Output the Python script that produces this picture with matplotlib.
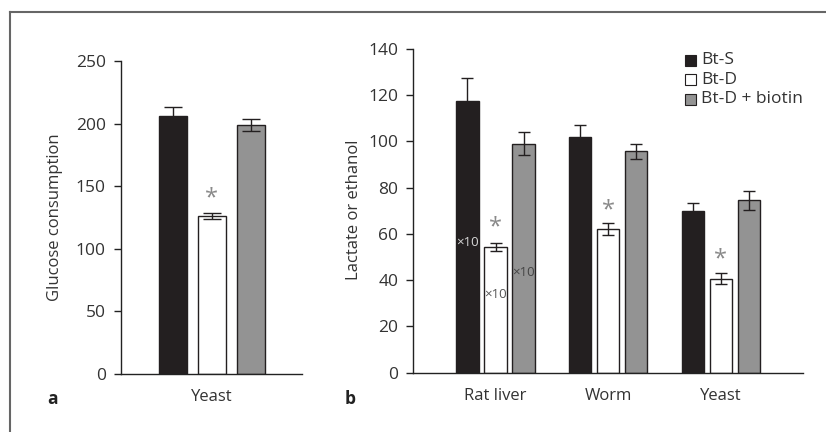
import matplotlib
matplotlib.use("Agg")
import matplotlib.pyplot as plt
from matplotlib.patches import Rectangle
from matplotlib.lines import Line2D
import numpy as np

plt.rcParams['font.family'] = ['Open Sans', 'DejaVu Sans']

# Panel a: glucose consumption in yeast
groups_a = ["Yeast"]
glucose_mean = {"Bt-S": [206], "Bt-D": [126], "Bt-D + biotin": [199]}
glucose_err = {"Bt-S": [7], "Bt-D": [2.5], "Bt-D + biotin": [5]}

# Panel b: lactate (rat liver) or ethanol (worm, yeast)
groups_b = ["Rat liver", "Worm", "Yeast"]
product_mean = {"Bt-S": [117.5, 102, 70], "Bt-D": [54.5, 62, 40.7], "Bt-D + biotin": [99, 95.7, 74.5]}
product_err = {"Bt-S": [10, 5, 3.5], "Bt-D": [1.8, 2.6, 2.3], "Bt-D + biotin": [5, 3.4, 4.3]}

conditions = ["Bt-S", "Bt-D", "Bt-D + biotin"]
face = {"Bt-S": "#231f20", "Bt-D": "white", "Bt-D + biotin": "#939393"}

# significance markers (height above Bt-D bars) and scale notes
star_a = [140]
star_b = [63, 70.3, 49.2]
scale_notes = [("Bt-S", 0, 56.1, "#d8d8d8"), ("Bt-D", 0, 33.8, "#555555"), ("Bt-D + biotin", 0, 43.4, "#444444")]

W, H = 826, 432
fig = plt.figure(figsize=(W / 100, H / 100), dpi=100)
TXT = "#333333"


def px_axes(left, right, top, bottom):
    return fig.add_axes([left / W, (H - bottom) / H, (right - left) / W, (bottom - top) / H])


def style(ax):
    for s in ("top", "right"):
        ax.spines[s].set_visible(False)
    for s in ("left", "bottom"):
        ax.spines[s].set_linewidth(1.0)
        ax.spines[s].set_color("#222222")
    ax.tick_params(axis="y", direction="out", length=5, width=1, color="#222222",
                   labelsize=12.5, labelcolor=TXT, pad=5.5)
    ax.tick_params(axis="x", length=0, labelsize=12, labelcolor=TXT, pad=11)


# ---- panel a ----
axa = px_axes(120.5, 302, 61, 374)
step_a, width_a = 1.0, 0.72
for i, c in enumerate(conditions):
    x = np.arange(len(groups_a)) + (i - 1) * step_a
    axa.bar(x, glucose_mean[c], width_a, color=face[c], edgecolor="#231f20", linewidth=1, zorder=2)
    axa.errorbar(x, glucose_mean[c], yerr=glucose_err[c], fmt="none", ecolor="#231f20",
                 elinewidth=1, capsize=6.5, capthick=1, zorder=3)
for j, y in enumerate(star_a):
    axa.text(j, y, "*", ha="center", va="center", fontsize=17, color="#8a8a8a")
axa.set_xlim(-2.35, 2.32)
axa.set_ylim(0, 250)
axa.set_yticks(np.arange(0, 251, 50))
axa.set_xticks(range(len(groups_a)))
axa.set_xticklabels(groups_a)
style(axa)
fig.text(55 / W, 1 - 217 / H, "Glucose consumption", rotation=90, ha="center", va="center",
         fontsize=12, color=TXT)

# ---- panel b ----
axb = px_axes(413, 803, 49, 372.7)
step_b, width_b = 0.2485, 0.198
for i, c in enumerate(conditions):
    x = np.arange(len(groups_b)) + (i - 1) * step_b
    axb.bar(x, product_mean[c], width_b, color=face[c], edgecolor="#231f20", linewidth=1, zorder=2)
    axb.errorbar(x, product_mean[c], yerr=product_err[c], fmt="none", ecolor="#231f20",
                 elinewidth=1, capsize=4.3, capthick=1, zorder=3)
for j, y in enumerate(star_b):
    axb.text(j, y, "*", ha="center", va="center", fontsize=17, color="#8a8a8a")
for c, g, y, col in scale_notes:
    i = conditions.index(c)
    axb.text(g + (i - 1) * step_b, y, "×10", ha="center", va="center", fontsize=9.5,
             color=col, zorder=4)
axb.set_xlim(-0.732, 2.728)
axb.set_ylim(0, 140)
axb.set_yticks(np.arange(0, 141, 20))
axb.set_xticks(range(len(groups_b)))
axb.set_xticklabels(groups_b)
style(axb)
fig.text(354 / W, 1 - 210 / H, "Lactate or ethanol", rotation=90, ha="center", va="center",
         fontsize=12, color=TXT)

# legend: square swatches with labels
for k, c in enumerate(conditions):
    yc = 60 + k * 19.6
    fig.add_artist(Rectangle((685 / W, 1 - (yc + 5.5) / H), 11 / W, 11 / H,
                             facecolor=face[c], edgecolor="#231f20", linewidth=0.8,
                             transform=fig.transFigure))
    fig.text(701 / W, 1 - yc / H, c, ha="left", va="center", fontsize=12.5, color=TXT)

# panel letters
fig.text(52 / W, 1 - 399 / H, "a", fontsize=12.5, fontweight="bold", ha="center", va="center", color="#222222")
fig.text(350 / W, 1 - 399 / H, "b", fontsize=12.5, fontweight="bold", ha="center", va="center", color="#222222")

# figure frame (top and left edges)
fig.add_artist(Line2D([10 / W, 1], [1 - 12 / H, 1 - 12 / H], color="#666666", linewidth=1.5))
fig.add_artist(Line2D([10 / W, 10 / W], [0, 1 - 12 / H], color="#666666", linewidth=1.5))

fig.savefig("out.png", dpi=100)
